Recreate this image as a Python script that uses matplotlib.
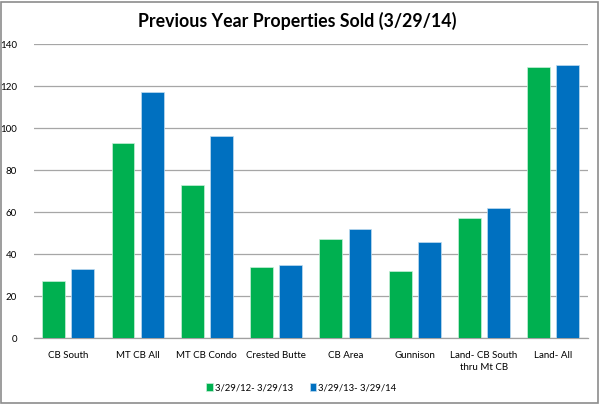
import matplotlib
matplotlib.use("Agg")
import matplotlib.pyplot as plt
import numpy as np
from matplotlib.patches import Rectangle

categories = ["CB South", "MT CB All", "MT CB Condo", "Crested Butte", "CB Area",
              "Gunnison", "Land- CB South\nthru Mt CB", "Land- All"]
series_names = ["3/29/12- 3/29/13", "3/29/13- 3/29/14"]
prev_year = [27, 93, 73, 34, 47, 32, 57, 129]
curr_year = [33, 117, 96, 35, 52, 46, 62, 130]
yticks = [0, 20, 40, 60, 80, 100, 120, 140]

plt.rcParams['font.family'] = ['Lato', 'DejaVu Sans']

fig = plt.figure(figsize=(6, 4.04), dpi=100)
ax = fig.add_axes([0.056, 0.163, 0.924, 0.728])

x = np.arange(len(categories))
w = 0.33
off = 0.21
ax.bar(x - off, prev_year, width=w, color="#00B050", edgecolor="#c8f0d8", linewidth=0.5,
       label=series_names[0], zorder=3)
ax.bar(x + off, curr_year, width=w, color="#0070C0", edgecolor="#c0dcf0", linewidth=0.5,
       label=series_names[1], zorder=3)

ax.set_xlim(-0.5, len(categories) - 0.5)
ax.set_ylim(0, 140)
ax.set_yticks(yticks)
ax.set_yticklabels([str(v) for v in yticks], fontsize=7)
ax.set_xticks(x)
ax.set_xticklabels(categories, fontsize=7, linespacing=1.5)
ax.tick_params(axis='x', length=0, pad=9)
ax.tick_params(axis='y', length=0, pad=12)
ax.yaxis.grid(True, color="#a6a6a6", linewidth=0.9, zorder=0)
for s in ["top", "right", "left"]:
    ax.spines[s].set_visible(False)
ax.spines["bottom"].set_color("#a0a0a0")
ax.spines["bottom"].set_linewidth(0.9)

fig.text(0.496, 0.948, "Previous Year Properties Sold (3/29/14)", ha="center", va="center",
         fontsize=12.8, fontweight="bold")

leg = fig.legend(loc="center", bbox_to_anchor=(0.502, 0.04), ncol=2, frameon=False,
                 fontsize=6.8, handlelength=0.7, handleheight=0.9, handletextpad=0.2,
                 columnspacing=1.8)

fig.patches.append(Rectangle((0.002, 0.003), 0.994, 0.993, transform=fig.transFigure,
                             fill=False, edgecolor="#8c8c8c", linewidth=1.2))

fig.savefig("out.png", dpi=100)
